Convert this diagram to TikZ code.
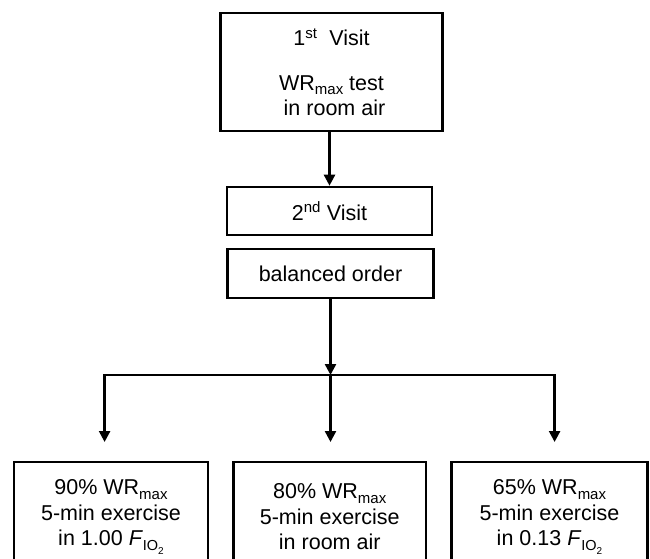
\documentclass[tikz,border=0pt]{standalone}
\usepackage{fontspec}
\setmainfont{Liberation Sans}
\usetikzlibrary{arrows.meta}
\newcommand{\lowsub}[1]{\raisebox{-4.5pt}{\fontsize{15}{15}\selectfont #1}}
\newcommand{\fiotwo}{\textit{F}\raisebox{-5pt}{\fontsize{14.5}{14.5}\selectfont IO\raisebox{-4pt}{\fontsize{10}{10}\selectfont 2}}}
\begin{document}
\begin{tikzpicture}[x=1pt,y=-1pt,
  box/.style={draw=black, line width=2.6pt, rectangle, inner sep=0pt, align=center,
              font=\fontsize{21.5}{25.5}\selectfont},
  conn/.style={line width=2.4pt},
  arr/.style={conn, -{Triangle[width=11pt,length=11pt]}}]
\useasboundingbox (0,0) rectangle (650,558);
\fill[white] (0,0) rectangle (650,558);
\clip (0,0) rectangle (650,558);
% boxes
\node[box, minimum width=221.5pt, minimum height=118pt] (v1) at (331.5,72)
  {1\textsuperscript{st}\ \ Visit\\[19pt]WR\lowsub{max} test\\\ in room air};
\node[box, minimum width=205pt, minimum height=48pt] (v2) at (329.5,211)
  {2\textsuperscript{nd} Visit};
\node[box, minimum width=206pt, minimum height=49pt] (bo) at (330.5,273.5)
  {balanced order};
\node[box, minimum width=194pt, minimum height=110pt] (b1) at (111,517)
  {90\% WR\lowsub{max}\\5-min exercise\\in 1.00 \fiotwo};
\node[box, minimum width=192.5pt, minimum height=110pt] (b2) at (329.75,517)
  {80\% WR\lowsub{max}\\5-min exercise\\in room air};
\node[box, minimum width=196pt, minimum height=110pt] (b3) at (549.5,517)
  {65\% WR\lowsub{max}\\5-min exercise\\in 0.13 \fiotwo};
% connector points
\coordinate (hl) at (104.6,375);
\coordinate (hr) at (554.6,375);
\coordinate (hm) at (bo.south |- hl);
\coordinate (tl) at (104.6,442);
\coordinate (tm) at (bo.south |- tl);
\coordinate (tr) at (554.6,442);
% connectors
\draw[arr] (v2.north |- v1.south) -- (v2.north);
\draw[arr] (bo.south) -- (hm);
\draw[arr] (hm) -- (hl) -- (tl);
\draw[arr] (hm) -- (hr) -- (tr);
\draw[arr] (hm) -- (tm);
\end{tikzpicture}
\end{document}
